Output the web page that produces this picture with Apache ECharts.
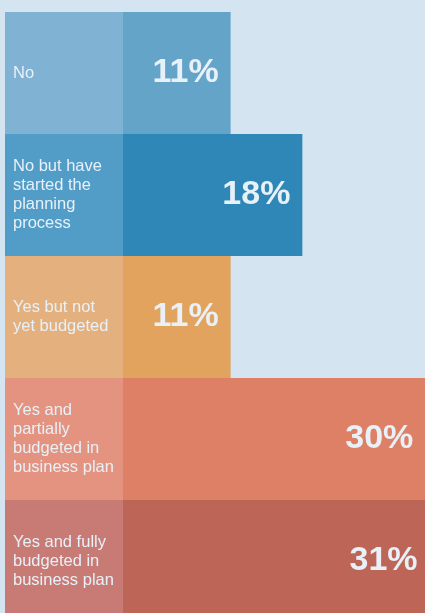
<!DOCTYPE html>
<html>
<head>
<meta charset="utf-8">
<title>Planning status</title>
<script src="https://cdn.jsdelivr.net/npm/echarts@6/dist/echarts.min.js"></script>
<style>
  html, body { margin: 0; padding: 0; background: #d4e4f0; }
  #chart { width: 425px; height: 613px; }
</style>
</head>
<body>
<div id="chart"></div>
<script>
// Answer categories (line breaks as set in the label panel)
const categories = [
  'No',
  'No but have\nstarted the\nplanning\nprocess',
  'Yes but not\nyet budgeted',
  'Yes and\npartially\nbudgeted in\nbusiness plan',
  'Yes and fully\nbudgeted in\nbusiness plan'
];
// Share of respondents, percent
const shares = [11, 18, 11, 30, 31];
// Light panel behind each label, and the matching darker value bar
const panelColors = ['#80b3d3', '#529dc7', '#e4b17e', '#e3937f', '#c77b74'];
const valueColors = ['#65a4c9', '#2e87b7', '#e1a35e', '#de8066', '#bd6556'];

const chart = echarts.init(document.getElementById('chart'), null, { renderer: 'canvas' });

const textColor = '#e8f0f8';
const font = "'Liberation Sans', Arial, Helvetica, sans-serif";

// whole-pixel row height keeps the row edges crisp
const rowTop = 12;
const rowsHeight = 610;

chart.setOption({
  backgroundColor: '#d4e4f0',
  animation: false,
  grid: [
    // label panel
    { left: 5, top: rowTop, width: 118, height: rowsHeight, outerBoundsMode: 'none' },
    // value bars: the axis origin sits just under the panel, bars are clipped
    // at the panel edge, and the last rows run past the canvas edge
    { left: 123, top: rowTop, width: 353.6, height: rowsHeight, outerBoundsMode: 'none' }
  ],
  xAxis: [
    { gridIndex: 0, type: 'value', min: 0, max: 1, show: false },
    { gridIndex: 1, type: 'value', min: 0.5, max: 35, show: false }
  ],
  yAxis: [
    {
      gridIndex: 0,
      type: 'category',
      data: categories,
      inverse: true,
      axisLine: { show: false },
      axisTick: { show: false },
      splitLine: { show: false },
      splitArea: { show: true, areaStyle: { color: panelColors, opacity: 1 } },
      axisLabel: {
        inside: true,
        margin: 8,
        color: textColor,
        fontFamily: font,
        fontSize: 16.5,
        lineHeight: 19
      }
    },
    {
      gridIndex: 1,
      type: 'category',
      data: categories,
      inverse: true,
      show: false
    }
  ],
  series: [
    {
      type: 'bar',
      xAxisIndex: 1,
      yAxisIndex: 1,
      clip: true,
      barWidth: '100%',
      barCategoryGap: 0,
      data: shares.map((v, i) => ({
        value: v,
        itemStyle: { color: valueColors[i] },
        // keep the last label inside the visible area
        label: i === shares.length - 1 ? { distance: 18 } : undefined
      })),
      label: {
        show: true,
        position: 'insideRight',
        distance: 12,
        formatter: '{c}%',
        color: textColor,
        fontFamily: font,
        fontWeight: 'bold',
        fontSize: 34
      }
    }
  ]
});
</script>
</body>
</html>
